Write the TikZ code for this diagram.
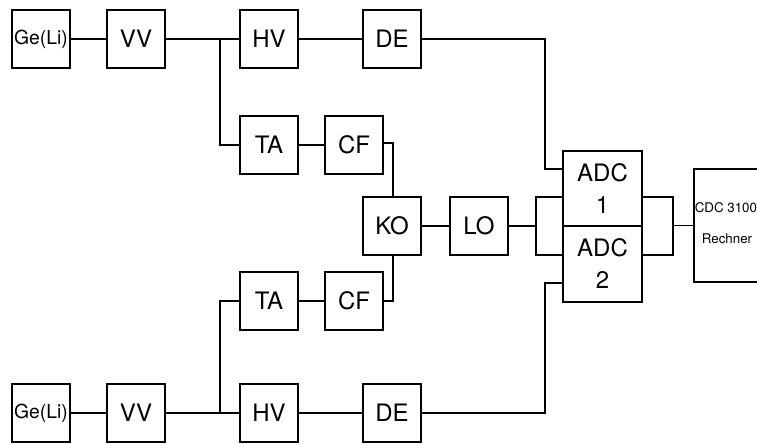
\documentclass[tikz,border=0pt]{standalone}
\usepackage{fontspec}
\setmainfont{TeX Gyre Heros}
\begin{document}
\begin{tikzpicture}[x=0.75pt,y=-0.75pt,
  box/.style={draw,line width=1.7pt,minimum width=43.5pt,minimum height=43.5pt,inner sep=0pt,font=\fontsize{18}{18}\selectfont},
  adcbox/.style={draw,line width=1.7pt,minimum width=59.25pt,minimum height=56.6pt,inner sep=0pt,align=center,font=\fontsize{18}{24}\selectfont},
  wire/.style={line width=1.3pt},
  smallfont/.style={font=\fontsize{10}{10}\selectfont}]
\clip (0,0) rectangle (757,445);
\fill[white] (0,0) rectangle (757,445);
% top chain
\node[box,font=\fontsize{14.5}{14.5}\selectfont] (ge1) at (41,39) {Ge(Li)};
\node[box] (vv1) at (136,39) {VV};
\node[box] (hv1) at (269,39) {HV};
\node[box] (de1) at (392,39) {DE};
\node[box] (ta1) at (269,145) {TA};
\node[box] (cf1) at (354,145) {CF};
% middle
\node[box] (ko) at (392,226) {KO};
\node[box] (lo) at (479,226) {LO};
\node[adcbox] (adc1) at (602.5,188.5) {ADC\\1};
\node[adcbox] (adc2) at (602.5,264) {ADC\\2};
\node[draw,line width=1.7pt,minimum width=82.5pt,minimum height=84.75pt,inner sep=0pt,anchor=west] (cdc) at (692.5,225.5) {};
\node[smallfont,anchor=west,inner sep=0pt] (cdct) at (694.5,208) {CDC 3100};
\node[smallfont,inner sep=0pt] (cdcr) at (727,239) {Rechner};
% bottom chain
\node[box] (ta2) at (269,301) {TA};
\node[box] (cf2) at (354,301) {CF};
\node[box,font=\fontsize{14.5}{14.5}\selectfont] (ge2) at (41,413) {Ge(Li)};
\node[box] (vv2) at (136,413) {VV};
\node[box] (hv2) at (269,413) {HV};
\node[box] (de2) at (392,413) {DE};
% coordinates
\coordinate (j1) at (220,39);
\coordinate (j2) at (220,413);
\coordinate (k1) at (545,169);
\coordinate (k2) at (545,283);
\coordinate (bl1) at (536,197);
\coordinate (bl2) at (536,255);
\coordinate (br1) at (673,197);
\coordinate (br2) at (673,255);
\coordinate (c1) at (393,143);
\coordinate (c2) at (393,301);
% wires top
\draw[wire] (ge1) -- (vv1);
\draw[wire] (vv1.east) -- (j1) -- (hv1.west |- j1);
\draw[wire] (j1) |- (ta1.west);
\draw[wire] (ta1) -- (cf1);
\draw[wire] (cf1.east |- c1) -- (c1) -- (c1 |- ko.north);
\draw[wire] (hv1) -- (de1);
\draw[wire] (de1.east) -| (k1) -- (k1 -| adc1.west);
% wires bottom
\draw[wire] (ge2) -- (vv2);
\draw[wire] (vv2.east) -- (j2) -- (hv2.west |- j2);
\draw[wire] (j2) |- (ta2.west);
\draw[wire] (ta2) -- (cf2);
\draw[wire] (cf2.east) -- (c2) -- (c2 |- ko.south);
\draw[wire] (hv2) -- (de2);
\draw[wire] (de2.east) -| (k2) -- (k2 -| adc2.west);
% middle
\draw[wire] (ko) -- (lo);
\draw[wire] (lo.east) -- (lo.east -| bl1);
\draw[wire] (adc1.west |- bl1) -- (bl1) -- (bl2) -- (adc2.west |- bl2);
\draw[wire] (adc1.east |- br1) -- (br1) -- (br2) -- (adc2.east |- br2);
\draw[wire] (br1 |- cdc.west) -- (cdc.west);
\end{tikzpicture}
\end{document}
